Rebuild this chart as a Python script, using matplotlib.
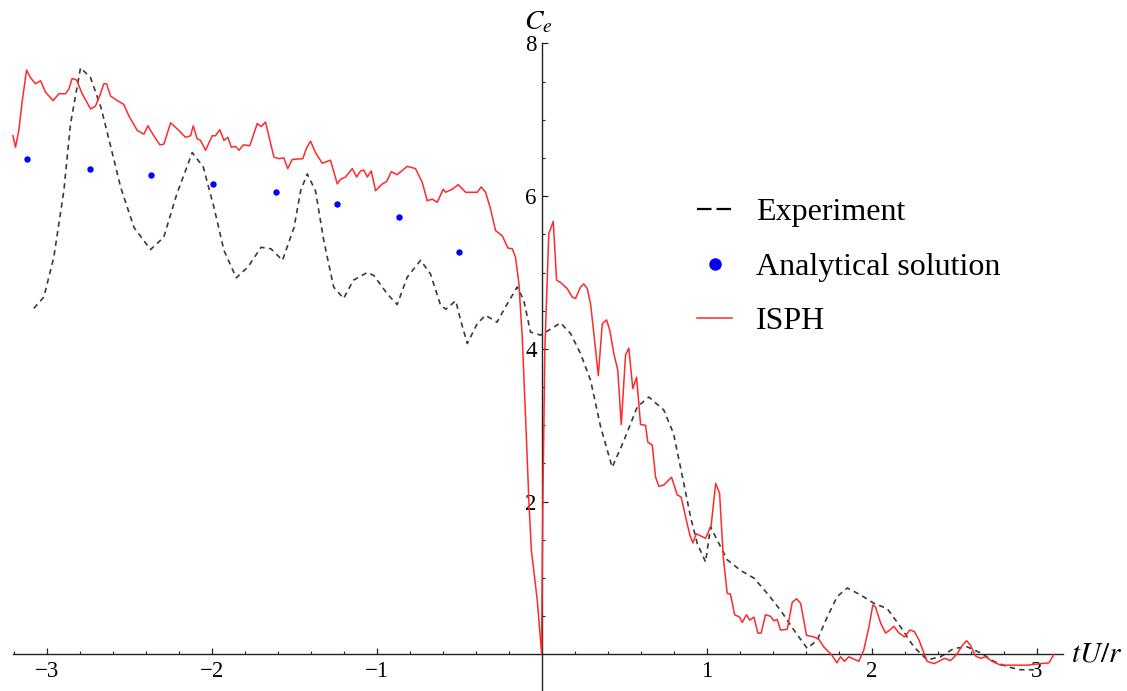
"""Pressure coefficient C_e: experiment vs analytical vs ISPH."""
import matplotlib
matplotlib.use("Agg")
import matplotlib.pyplot as plt
from matplotlib.lines import Line2D
import numpy as np

plt.rcParams["font.family"] = ["Liberation Serif", "DejaVu Serif"]
plt.rcParams["mathtext.fontset"] = "stix"

# experiment (dashed)
exp_x = [-3.077, -3.016, -2.956, -2.895, -2.855, -2.794, -2.733, -2.67, -2.61, -2.55,
         -2.47, -2.37, -2.29, -2.21, -2.117, -2.05, -1.985, -1.925, -1.85, -1.78,
         -1.70, -1.64, -1.57, -1.50, -1.46, -1.42, -1.37, -1.32, -1.26, -1.20,
         -1.14, -1.056, -1.016, -0.935, -0.875, -0.814, -0.733, -0.673, -0.612, -0.58,
         -0.52, -0.49, -0.45, -0.39, -0.34, -0.27, -0.208, -0.147, -0.107, -0.067,
         -0.006, 0.055, 0.115, 0.176, 0.236, 0.297, 0.358, 0.428, 0.499, 0.580,
         0.65, 0.741, 0.80, 0.862, 0.903, 0.944, 0.994, 1.024, 1.085, 1.125,
         1.206, 1.287, 1.368, 1.448, 1.529, 1.61, 1.671, 1.731, 1.792, 1.853,
         1.933, 2.014, 2.095, 2.176, 2.256, 2.337, 2.418, 2.499, 2.58, 2.661,
         2.741, 2.822, 2.903, 2.984]
exp_y = [4.53, 4.68, 5.20, 6.07, 6.94, 7.68, 7.55, 7.16, 6.64, 6.11,
         5.59, 5.30, 5.46, 6.03, 6.57, 6.38, 5.85, 5.29, 4.93, 5.07,
         5.33, 5.31, 5.16, 5.59, 6.07, 6.29, 6.07, 5.42, 4.81, 4.66,
         4.90, 5.00, 4.96, 4.72, 4.58, 4.94, 5.16, 4.98, 4.57, 4.52,
         4.63, 4.37, 4.07, 4.33, 4.44, 4.35, 4.59, 4.81, 4.63, 4.22,
         4.18, 4.26, 4.34, 4.20, 3.94, 3.59, 2.98, 2.45, 2.80, 3.24,
         3.37, 3.20, 2.89, 2.24, 1.80, 1.45, 1.21, 1.67, 1.41, 1.24,
         1.10, 1.00, 0.80, 0.58, 0.32, 0.08, 0.19, 0.49, 0.76, 0.87,
         0.78, 0.67, 0.60, 0.36, 0.10, -0.07, -0.03, 0.08, 0.10, 0.02,
         -0.09, -0.16, -0.20, -0.20]

# analytical solution (dots)
ana_x = [-3.117, -2.739, -2.368, -1.99, -1.612, -1.242, -0.862, -0.499]
ana_y = [6.48, 6.36, 6.27, 6.16, 6.06, 5.90, 5.72, 5.27]

# ISPH (red)
isph_x = [-3.204, -3.188, -3.168, -3.147, -3.121, -3.097, -3.067, -3.036, -3.006, -2.96,
          -2.925, -2.885, -2.865, -2.845, -2.818, -2.784, -2.733, -2.703, -2.673, -2.653,
          -2.636, -2.612, -2.571, -2.532, -2.501, -2.45, -2.41, -2.386, -2.35, -2.313,
          -2.289, -2.248, -2.208, -2.158, -2.127, -2.111, -2.087, -2.067, -2.036, -1.996,
          -1.976, -1.95, -1.925, -1.901, -1.88, -1.855, -1.833, -1.808, -1.768, -1.723,
          -1.699, -1.673, -1.622, -1.592, -1.562, -1.538, -1.511, -1.447, -1.424, -1.40,
          -1.37, -1.329, -1.279, -1.238, -1.218, -1.188, -1.147, -1.121, -1.097, -1.077,
          -1.056, -1.032, -1.006, -0.965, -0.939, -0.911, -0.875, -0.814, -0.764, -0.723,
          -0.693, -0.663, -0.632, -0.596, -0.582, -0.541, -0.505, -0.46, -0.39, -0.366,
          -0.339, -0.309, -0.279, -0.238, -0.204, -0.177, -0.158, -0.137, -0.117, -0.097,
          -0.077, -0.062, -0.026, 0.0, 0.008, 0.02, 0.044, 0.071, 0.091, 0.115,
          0.155, 0.186, 0.206, 0.236, 0.256, 0.277, 0.297, 0.317, 0.344, 0.368,
          0.394, 0.414, 0.438, 0.462, 0.483, 0.509, 0.529, 0.553, 0.576, 0.60,
          0.63, 0.644, 0.671, 0.691, 0.711, 0.741, 0.788, 0.822, 0.846, 0.873,
          0.899, 0.917, 0.938, 0.994, 1.028, 1.055, 1.079, 1.101, 1.125, 1.145,
          1.17, 1.20, 1.216, 1.242, 1.262, 1.287, 1.311, 1.331, 1.357, 1.388,
          1.408, 1.428, 1.448, 1.489, 1.519, 1.545, 1.57, 1.606, 1.65, 1.68,
          1.71, 1.76, 1.79, 1.812, 1.836, 1.862, 1.903, 1.923, 1.953, 1.984,
          2.008, 2.024, 2.055, 2.085, 2.111, 2.135, 2.166, 2.20, 2.232, 2.26,
          2.287, 2.337, 2.378, 2.408, 2.442, 2.479, 2.519, 2.55, 2.576, 2.60,
          2.63, 2.661, 2.691, 2.731, 2.782, 2.862, 2.943, 3.024, 3.075, 3.105]
isph_y = [6.79, 6.64, 6.86, 7.25, 7.65, 7.55, 7.47, 7.51, 7.36, 7.25,
          7.34, 7.34, 7.40, 7.54, 7.52, 7.34, 7.14, 7.18, 7.34, 7.47,
          7.47, 7.31, 7.25, 7.20, 7.05, 6.86, 6.81, 6.92, 6.79, 6.67,
          6.68, 6.96, 6.88, 6.77, 6.79, 6.92, 6.75, 6.73, 6.60, 6.79,
          6.79, 6.87, 6.73, 6.77, 6.64, 6.65, 6.60, 6.67, 6.66, 6.95,
          6.91, 6.97, 6.51, 6.49, 6.50, 6.36, 6.48, 6.49, 6.63, 6.72,
          6.57, 6.43, 6.47, 6.16, 6.22, 6.25, 6.36, 6.25, 6.33, 6.34,
          6.25, 6.33, 6.07, 6.16, 6.19, 6.32, 6.28, 6.39, 6.36, 6.18,
          5.94, 5.96, 5.92, 6.09, 6.05, 6.09, 6.15, 6.05, 6.05, 6.12,
          6.05, 5.83, 5.55, 5.48, 5.32, 5.31, 5.20, 4.85, 4.15, 3.11,
          2.02, 1.37, 0.71, 0.02, 2.0, 4.0, 5.51, 5.67, 4.90, 4.87,
          4.79, 4.68, 4.66, 4.81, 4.85, 4.79, 4.59, 4.20, 3.65, 4.33,
          4.38, 4.24, 3.94, 3.72, 3.01, 3.92, 4.01, 3.48, 3.63, 3.01,
          3.00, 2.78, 2.74, 2.32, 2.20, 2.22, 2.32, 2.09, 2.06, 1.80,
          1.56, 1.46, 1.58, 1.52, 1.69, 2.24, 2.11, 1.28, 0.80, 0.79,
          0.52, 0.49, 0.42, 0.52, 0.45, 0.49, 0.28, 0.28, 0.52, 0.50,
          0.44, 0.46, 0.32, 0.33, 0.68, 0.73, 0.67, 0.25, 0.23, 0.20,
          0.10, -0.01, -0.11, -0.03, -0.09, -0.03, -0.07, -0.09, 0.06, 0.36,
          0.65, 0.62, 0.41, 0.28, 0.32, 0.37, 0.28, 0.23, 0.32, 0.30,
          0.19, -0.09, -0.12, -0.09, -0.05, -0.08, 0.01, 0.12, 0.18, 0.12,
          -0.02, -0.05, -0.03, -0.09, -0.14, -0.14, -0.14, -0.12, -0.11, 0.0]

fig = plt.figure(figsize=(11.27, 6.91), dpi=100)
ax = fig.add_axes([0, 0, 1, 1])
ax.set_xlim(-3.282, 3.548)
ax.set_ylim(-0.478, 8.567)

ax.plot(exp_x, exp_y, color="#3a3a3a", lw=1.2, dashes=(3.2, 2.6), zorder=2)
ax.plot(ana_x, ana_y, "o", color="#0000ff", ms=4.6, mec="none", zorder=3)
ax.plot(isph_x, isph_y, color="#ff2a2a", lw=1.1, zorder=4)

# Mathematica-style axes through the origin
for side in ("top", "right"):
    ax.spines[side].set_visible(False)
ax.spines["bottom"].set_position(("data", 0))
ax.spines["left"].set_position(("data", 0))
ax.spines["bottom"].set_bounds(-3.205, 3.16)
ax.spines["left"].set_bounds(-0.478, 8.0)
for side in ("bottom", "left"):
    ax.spines[side].set_linewidth(1.0)
    ax.spines[side].set_color("#222222")

ax.set_xticks([-3, -2, -1, 1, 2, 3])
ax.set_xticklabels(["\u22123", "\u22122", "\u22121", "1", "2", "3"])
xminor = [v for v in np.round(np.arange(-3.2, 3.05, 0.2), 1) if abs(v - round(v)) > 1e-6]
ax.set_xticks(xminor, minor=True)
ax.set_yticks([2, 4, 6, 8])
ax.set_yticks([0.5, 1, 1.5, 2.5, 3, 3.5, 4.5, 5, 5.5, 6.5, 7, 7.5], minor=True)
ax.tick_params(which="major", direction="in", length=4, width=0.9, labelsize=16.5,
               color="#222222")
ax.tick_params(which="minor", direction="in", length=2.2, width=0.8, color="#222222")
ax.tick_params(axis="x", pad=5)
ax.tick_params(axis="y", pad=3.5)

ax.text(-0.105, 8.18, r"$C_e$", fontsize=20, ha="left", va="baseline")
ax.text(3.21, 0.0, r"$tU/r$", fontsize=21, ha="left", va="center")

handles = [
    Line2D([], [], color="black", lw=1.6, dashes=(6.5, 2.3)),
    Line2D([], [], ls="none", marker="o", color="#0000ff", ms=9, mec="none"),
    Line2D([], [], color="#ff2a2a", lw=1.1),
]
ax.legend(handles, ["Experiment", "Analytical solution", "ISPH"],
          loc="center left", bbox_to_anchor=(697 / 1127, 1 - 267 / 691),
          frameon=False, fontsize=23, handlelength=1.1, handletextpad=0.75,
          labelspacing=0.78, borderpad=0, borderaxespad=0)

fig.savefig("out.png", dpi=100)
